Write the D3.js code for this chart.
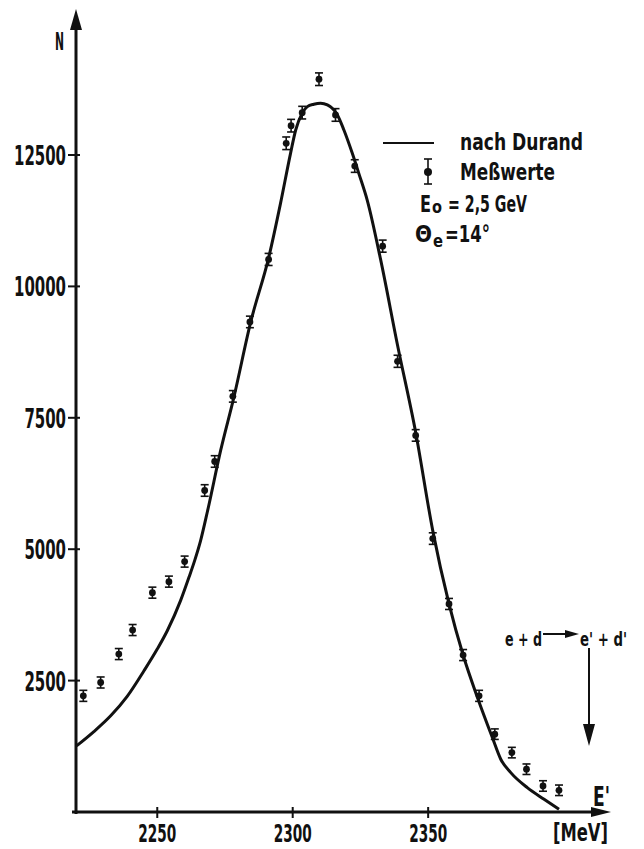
<!DOCTYPE html>
<html>
<head>
<meta charset="utf-8">
<script src="https://cdn.jsdelivr.net/npm/d3@7"></script>
<style>
  body { margin: 0; background: #fff; }
  svg text { font-family: "DejaVu Sans", sans-serif; font-weight: bold; fill: #111; }
</style>
</head>
<body>
<div id="chart"></div>
<script>
// measured points (Meßwerte)
const energy = [2222.7, 2229.1, 2235.8, 2240.9, 2248.2, 2254.3, 2260.1, 2267.5, 2271.2, 2277.9,
  2284.2, 2291.1, 2297.6, 2299.4, 2303.5, 2309.7, 2315.8, 2322.9, 2333.2, 2338.7,
  2345.4, 2351.7, 2357.7, 2362.9, 2368.8, 2374.6, 2380.9, 2386.3, 2392.4, 2398.3];
const counts = [2210, 2464, 3005, 3462, 4173, 4383, 4764, 6117, 6669, 7908,
  9324, 10513, 12723, 13058, 13306, 13942, 13262, 12290, 10766, 8575,
  7165, 5202, 3958, 2986, 2210, 1481, 1130, 814, 495, 413];
const errors = [105, 105, 105, 105, 105, 105, 105, 110, 110, 110,
  110, 115, 120, 120, 120, 120, 120, 120, 115, 115,
  110, 110, 105, 105, 105, 100, 100, 100, 100, 100];

// theory curve "nach Durand"
const durandE = [2220.2, 2226.6, 2232.8, 2238.9, 2245.1, 2250.0, 2253.7, 2258.6, 2261.7, 2263.8,
  2266.0, 2268.6, 2273.4, 2278.3, 2284.5, 2291.2, 2295.5, 2299.2, 2301.1, 2303.5,
  2305.4, 2307.8, 2310.3, 2312.8, 2314.6, 2316.5, 2318.9, 2322.0, 2324.4, 2327.5,
  2332.5, 2338.7, 2345.4, 2351.7, 2357.7, 2362.9, 2368.2, 2373.7, 2376.8, 2380.5,
  2386.6, 2392.8, 2398.3];
const durandN = [1258, 1530, 1830, 2200, 2687, 3100, 3449, 4021, 4465, 4783,
  5164, 5736, 6879, 7895, 9324, 10562, 11580, 12532, 12976, 13295,
  13420, 13466, 13485, 13453, 13390, 13262, 12976, 12532, 12151, 11643,
  10499, 8880, 7222, 5354, 3958, 2986, 2178, 1416, 1004, 749,
  463, 242, 51];

const xTicks = [2250, 2300, 2350];
const yTicks = [2500, 5000, 7500, 10000, 12500];

var width = 644, height = 849;

var svg = d3.select("#chart").append("svg")
  .attr("width", width)
  .attr("height", height);

var x = d3.scaleLinear().domain([2220, 2417.5]).range([76, 611]);
var y = d3.scaleLinear().domain([0, 12500]).range([812, 155]);

var x0 = x.range()[0], y0 = y(0);

// text helper: condensed look via textLength
function txt(s, tx, ty, size, w, anchor) {
  return svg.append("text")
    .attr("x", tx).attr("y", ty)
    .attr("font-size", size)
    .attr("text-anchor", anchor || "start")
    .attr("textLength", w)
    .attr("lengthAdjust", "spacingAndGlyphs")
    .text(s);
}

// axes with arrows
svg.append("line").attr("x1", x0).attr("x2", x0).attr("y1", y0 + 2).attr("y2", 26)
  .attr("stroke", "#111").attr("stroke-width", 3);
svg.append("path").attr("d", "M" + x0 + ",9 L" + (x0 - 6) + ",30 L" + (x0 + 6) + ",30 Z").attr("fill", "#111");

svg.append("line").attr("x1", x0 - 4).attr("x2", 595).attr("y1", y0).attr("y2", y0)
  .attr("stroke", "#111").attr("stroke-width", 3);
svg.append("path").attr("d", "M611," + y0 + " L591," + (y0 - 5) + " L591," + (y0 + 5) + " Z").attr("fill", "#111");

// y ticks
svg.selectAll(".ytick").data(yTicks).enter().append("line")
  .attr("x1", x0 - 8).attr("x2", x0 + 4)
  .attr("y1", d => y(d)).attr("y2", d => y(d))
  .attr("stroke", "#111").attr("stroke-width", 2);
yTicks.forEach(d => txt(String(d), x0 - 10, y(d) + 10, 26, String(d).length * 10.4, "end"));

// x ticks
svg.selectAll(".xtick").data(xTicks).enter().append("line")
  .attr("x1", d => x(d)).attr("x2", d => x(d))
  .attr("y1", y0 - 5).attr("y2", y0 + 6)
  .attr("stroke", "#111").attr("stroke-width", 2);
xTicks.forEach(d => txt(String(d), x(d), 842, 25, 38, "middle"));

txt("N", 55, 50, 24, 9);
txt("E'", 593, 806, 26, 17);
txt("[MeV]", 553, 841, 24, 55);

// Durand curve
var line = d3.line()
  .x((d, i) => x(durandE[i]))
  .y(d => y(d))
  .curve(d3.curveMonotoneX);
svg.append("path").datum(durandN)
  .attr("d", line)
  .attr("fill", "none").attr("stroke", "#111").attr("stroke-width", 3);

// data points with error bars
var pts = svg.selectAll(".pt").data(counts).enter().append("g")
  .attr("transform", (d, i) => "translate(" + x(energy[i]) + "," + y(d) + ")");
pts.append("line").attr("x1", 0).attr("x2", 0)
  .attr("y1", (d, i) => y(d + errors[i]) - y(d))
  .attr("y2", (d, i) => y(d - errors[i]) - y(d))
  .attr("stroke", "#111").attr("stroke-width", 1.6);
pts.append("line").attr("x1", -4).attr("x2", 4)
  .attr("y1", (d, i) => y(d + errors[i]) - y(d)).attr("y2", (d, i) => y(d + errors[i]) - y(d))
  .attr("stroke", "#111").attr("stroke-width", 1.6);
pts.append("line").attr("x1", -4).attr("x2", 4)
  .attr("y1", (d, i) => y(d - errors[i]) - y(d)).attr("y2", (d, i) => y(d - errors[i]) - y(d))
  .attr("stroke", "#111").attr("stroke-width", 1.6);
pts.append("circle").attr("r", 3.4).attr("fill", "#111");

// legend
svg.append("line").attr("x1", 383).attr("x2", 434).attr("y1", 143).attr("y2", 143)
  .attr("stroke", "#111").attr("stroke-width", 2);
txt("nach Durand", 460, 150, 23, 123);
var lg = svg.append("g").attr("transform", "translate(428,172)");
lg.append("line").attr("y1", -13).attr("y2", 12).attr("stroke", "#111").attr("stroke-width", 1.6);
lg.append("line").attr("x1", -4).attr("x2", 4).attr("y1", -13).attr("y2", -13).attr("stroke", "#111").attr("stroke-width", 1.6);
lg.append("line").attr("x1", -4).attr("x2", 4).attr("y1", 12).attr("y2", 12).attr("stroke", "#111").attr("stroke-width", 1.6);
lg.append("circle").attr("r", 4).attr("fill", "#111");
txt("Meßwerte", 460, 180, 23, 95);

txt("E", 420, 212, 23, 11);
txt("o", 432, 213, 17, 10);
txt("= 2,5 GeV", 448, 212, 23, 79);
txt("Θ", 415, 242, 23, 17);
txt("e", 433, 247, 18, 10);
txt("=14°", 445, 242, 23, 45);

// elastic peak annotation
txt("e + d", 505, 646, 20, 37);
svg.append("line").attr("x1", 543).attr("x2", 568).attr("y1", 634).attr("y2", 634)
  .attr("stroke", "#111").attr("stroke-width", 2);
svg.append("path").attr("d", "M579,634 L565,630 L565,638 Z").attr("fill", "#111");
txt("e' + d'", 580, 646, 20, 47);
svg.append("line").attr("x1", 589).attr("x2", 589).attr("y1", 648).attr("y2", 728)
  .attr("stroke", "#111").attr("stroke-width", 2);
svg.append("path").attr("d", "M589,746 L583,724 L595,724 Z").attr("fill", "#111");
</script>
</body>
</html>
